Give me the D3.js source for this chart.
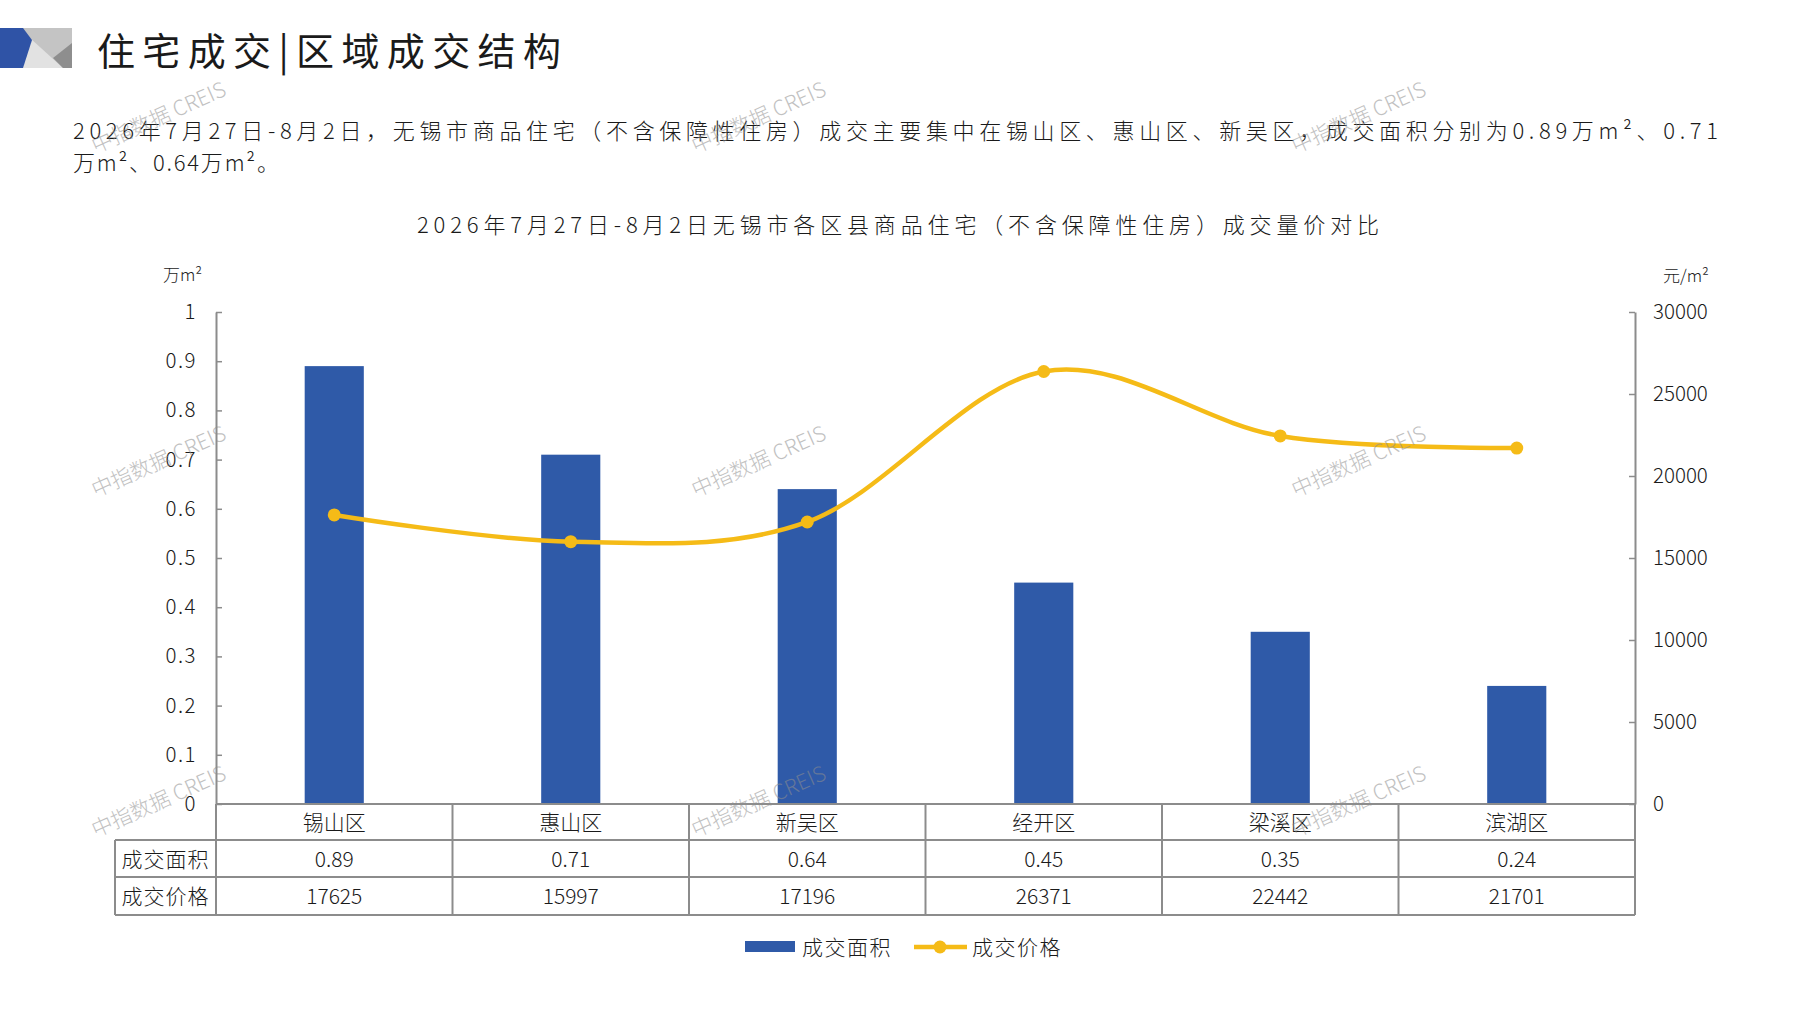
<!DOCTYPE html>
<html>
<head>
<meta charset="utf-8">
<script src="https://cdn.jsdelivr.net/npm/d3@7"></script>
<style>
  body { margin: 0; background: #fff; }
  svg text { font-family: "Noto Sans CJK SC", "Noto Sans", sans-serif; font-weight: 300; fill: #1a1a1a; }
</style>
</head>
<body>
<svg id="chart" width="1797" height="1010"></svg>
<script>
const categories = ["锡山区", "惠山区", "新吴区", "经开区", "梁溪区", "滨湖区"]
const areaValues = [0.89, 0.71, 0.64, 0.45, 0.35, 0.24]
const priceValues = [17625, 15997, 17196, 26371, 22442, 21701]
const areaTicks = [0, 0.1, 0.2, 0.3, 0.4, 0.5, 0.6, 0.7, 0.8, 0.9, 1]
const priceTicks = [0, 5000, 10000, 15000, 20000, 25000, 30000]
const rowLabels = ["成交面积", "成交价格"]
const seriesNames = ["成交面积", "成交价格"]

const pageTitle = "住宅成交|区域成交结构"
const summary = [
  "2026年7月27日-8月2日，无锡市商品住宅（不含保障性住房）成交主要集中在锡山区、惠山区、新吴区，成交面积分别为0.89万m²、0.71",
  "万m²、0.64万m²。"
]
const chartTitle = "2026年7月27日-8月2日无锡市各区县商品住宅（不含保障性住房）成交量价对比"

const barColor = "#2F5AA8"
const lineColor = "#F5BB17"
const axisColor = "#8c8c8c"

const svg = d3.select("#chart")

// header logo
const logo = svg.append("g")
logo.append("rect").attr("x", 23).attr("y", 28).attr("width", 49).attr("height", 40).attr("fill", "#c4c4c4")
logo.append("polygon").attr("points", "30,38 22,68 63,68").attr("fill", "#e2e2e2")
logo.append("polygon").attr("points", "72,43 53,58 63,68 72,68").attr("fill", "#8e8e8e")
logo.append("polygon").attr("points", "0,28 23,28 32,40 23,68 0,68").attr("fill", "#2F53A6")

svg.append("text")
  .attr("x", 97).attr("y", 48)
  .attr("dominant-baseline", "central")
  .attr("font-size", 38).style("font-weight", 400)
  .attr("textLength", 464).attr("lengthAdjust", "spacing")
  .text(pageTitle)

summary.forEach((line, i) => {
  svg.append("text")
    .attr("x", 73).attr("y", 129 + i * 32)
    .attr("dominant-baseline", "central")
    .attr("font-size", 22)
    .attr("textLength", i === 0 ? 1645 : 206).attr("lengthAdjust", "spacing")
    .text(line)
})

svg.append("text")
  .attr("x", 417).attr("y", 223)
  .attr("dominant-baseline", "central")
  .attr("font-size", 22)
  .attr("textLength", 962).attr("lengthAdjust", "spacing")
  .text(chartTitle)

// scales
const plotLeft = 216, plotRight = 1635, plotTop = 312, plotBottom = 804
const x = d3.scaleBand().domain(categories).range([plotLeft, plotRight])
  .paddingInner(0.75).paddingOuter(0.375)
const step = x.step()
const yArea = d3.scaleLinear().domain([0, 1]).range([plotBottom, plotTop])
const yPrice = d3.scaleLinear().domain([0, 30000]).range([plotBottom, plotTop])

// bars
svg.append("g").selectAll("rect")
  .data(categories)
  .join("rect")
  .attr("x", d => x(d))
  .attr("width", x.bandwidth())
  .attr("y", (d, i) => yArea(areaValues[i]))
  .attr("height", (d, i) => plotBottom - yArea(areaValues[i]))
  .attr("fill", barColor)

// axes
const leftAxis = svg.append("g")
  .attr("transform", `translate(${plotLeft},0)`)
  .call(d3.axisLeft(yArea).tickValues(areaTicks).tickSizeInner(-6).tickSizeOuter(0).tickPadding(19)
    .tickFormat(d => d === 0 || d === 1 ? d : d3.format(".1f")(d)))
const rightAxis = svg.append("g")
  .attr("transform", `translate(${plotRight},0)`)
  .call(d3.axisRight(yPrice).tickValues(priceTicks).tickSizeInner(-6).tickSizeOuter(0).tickPadding(18)
    .tickFormat(d3.format("d")))
;[leftAxis, rightAxis].forEach(g => {
  g.select(".domain").attr("stroke", axisColor).attr("stroke-width", 2)
  g.selectAll(".tick line").attr("stroke", axisColor).attr("stroke-width", 1.5)
  g.selectAll(".tick text").attr("font-size", 20.5).attr("fill", "#1a1a1a")
    .style("font-family", '"Noto Sans CJK SC", sans-serif').style("font-weight", 300)
})
leftAxis.selectAll(".tick text").attr("letter-spacing", 1.5)

svg.append("text").attr("x", 163).attr("y", 273).attr("dominant-baseline", "central")
  .attr("font-size", 17).text("万m²")
svg.append("text").attr("x", 1663).attr("y", 274).attr("dominant-baseline", "central")
  .attr("font-size", 17).text("元/m²")

// price line
const pts = categories.map((c, i) => [x(c) + x.bandwidth() / 2, yPrice(priceValues[i])])
svg.append("path")
  .attr("d", d3.line().curve(d3.curveCardinal.tension(0))(pts))
  .attr("fill", "none")
  .attr("stroke", lineColor)
  .attr("stroke-width", 4.5)
svg.append("g").selectAll("circle")
  .data(pts)
  .join("circle")
  .attr("cx", d => d[0]).attr("cy", d => d[1]).attr("r", 6.5)
  .attr("fill", lineColor)

// data table
const rowY = [804, 840, 877, 915]
const tableLeft = 115
const grid = svg.append("g").attr("stroke", axisColor).attr("stroke-width", 2)
grid.append("line").attr("x1", plotLeft).attr("x2", plotRight).attr("y1", rowY[0]).attr("y2", rowY[0])
rowY.slice(1).forEach(yy => {
  grid.append("line").attr("x1", tableLeft).attr("x2", plotRight).attr("y1", yy).attr("y2", yy)
})
grid.append("line").attr("x1", tableLeft).attr("x2", tableLeft).attr("y1", rowY[1]).attr("y2", rowY[3])
d3.range(categories.length + 1).forEach(k => {
  const xx = plotLeft + k * step
  grid.append("line").attr("x1", xx).attr("x2", xx).attr("y1", rowY[0]).attr("y2", rowY[3])
})

const cellMid = c => x(c) + x.bandwidth() / 2
svg.append("g").selectAll("text")
  .data(categories)
  .join("text")
  .attr("x", d => cellMid(d))
  .attr("y", (rowY[0] + rowY[1]) / 2 - 1)
  .attr("text-anchor", "middle").attr("dominant-baseline", "central")
  .attr("font-size", 21)
  .text(d => d)

rowLabels.forEach((label, r) => {
  const yy = (rowY[r + 1] + rowY[r + 2]) / 2 - 1
  svg.append("text")
    .attr("x", (tableLeft + plotLeft) / 2).attr("y", yy)
    .attr("text-anchor", "middle").attr("dominant-baseline", "central")
    .attr("font-size", 21).attr("letter-spacing", 1)
    .text(label)
  const vals = r === 0 ? areaValues.map(v => d3.format(".2f")(v)) : priceValues.map(String)
  svg.append("g").selectAll("text")
    .data(categories)
    .join("text")
    .attr("x", d => cellMid(d))
    .attr("y", yy)
    .attr("text-anchor", "middle").attr("dominant-baseline", "central")
    .attr("font-size", 21)
    .text((d, i) => vals[i])
})

// legend
const legend = svg.append("g")
legend.append("rect").attr("x", 745).attr("y", 941).attr("width", 50).attr("height", 11).attr("fill", barColor)
legend.append("text").attr("x", 802).attr("y", 946).attr("dominant-baseline", "central")
  .attr("font-size", 21).attr("letter-spacing", 1.5).text(seriesNames[0])
legend.append("line").attr("x1", 914).attr("x2", 967).attr("y1", 947).attr("y2", 947)
  .attr("stroke", lineColor).attr("stroke-width", 4.5)
legend.append("circle").attr("cx", 940).attr("cy", 947).attr("r", 6.5).attr("fill", lineColor)
legend.append("text").attr("x", 972).attr("y", 946).attr("dominant-baseline", "central")
  .attr("font-size", 21).attr("letter-spacing", 1.5).text(seriesNames[1])

// watermarks
const markX = [158, 758, 1358]
const markY = [116, 460, 800]
markY.forEach(my => markX.forEach(mx => {
  svg.append("text")
    .attr("transform", `translate(${mx},${my}) rotate(-24)`)
    .attr("text-anchor", "middle").attr("dominant-baseline", "central")
    .attr("font-size", 21)
    .style("fill", "#8f8f8f").style("opacity", 0.55)
    .text("中指数据 CREIS")
}))
</script>
</body>
</html>
